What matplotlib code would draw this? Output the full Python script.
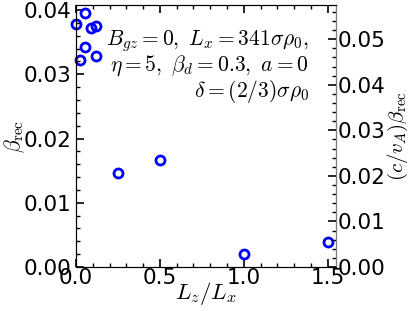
import matplotlib
matplotlib.use("Agg")
import matplotlib.pyplot as plt
from matplotlib.ticker import MultipleLocator

plt.rcParams['mathtext.fontset'] = 'cm'
plt.rcParams['font.family'] = ['DejaVu Sans']

Lz_over_Lx = [0.0, 0.025, 0.055, 0.055, 0.09, 0.12, 0.12, 0.25, 0.5, 1.0, 1.5]
beta_rec = [0.0378, 0.0323, 0.0395, 0.0343, 0.0372, 0.0375, 0.0329, 0.0146, 0.0167, 0.0020, 0.0039]
c_over_vA = 1.41

fig = plt.figure(figsize=(4.15, 3.11), dpi=100)
ax = fig.add_axes([0.183, 0.1415, 0.627, 0.8425])
ax.plot(Lz_over_Lx, beta_rec, 'o', mfc='none', mec='#0000ff', mew=2, ms=6.5, clip_on=False, zorder=5)
ax.set_xlim(0, 1.55)
ax.set_ylim(0, 0.0408)
ax.xaxis.set_major_locator(MultipleLocator(0.5))
ax.xaxis.set_minor_locator(MultipleLocator(0.1))
ax.yaxis.set_major_locator(MultipleLocator(0.01))
ax.yaxis.set_minor_locator(MultipleLocator(0.002))
ax.tick_params(which='both', direction='in', top=True, right=False, labelsize=15.5)
ax.tick_params(axis='x', pad=1)
ax.tick_params(which='major', length=6, width=1.2)
ax.tick_params(which='minor', length=3, width=1)
ax.set_xlabel(r'$L_z/L_x$', fontsize=16.5, labelpad=-6)
ax.set_ylabel(r'$\beta_{\rm rec}$', fontsize=15.5, labelpad=-3)

ax2 = ax.twinx()
ax2.set_ylim(0, 0.0408 * c_over_vA)
ax2.yaxis.set_major_locator(MultipleLocator(0.01))
ax2.yaxis.set_minor_locator(MultipleLocator(0.002))
ax2.tick_params(which='both', direction='in', labelsize=15.5, pad=1)
ax2.tick_params(which='major', length=6, width=1.2)
ax2.tick_params(which='minor', length=3, width=1)
ax2.spines['right'].set_color('#808080')
ax2.set_ylabel(r'$(c/v_A)\beta_{\rm rec}$', fontsize=15, labelpad=0)

ax.text(0.895, 0.765,
        '$B_{gz}=0,\\ L_x=341\\sigma\\rho_0,$\n$\\eta=5,\\ \\beta_d=0.3,\\ a=0$\n$\\delta=(2/3)\\sigma\\rho_0$',
        transform=ax.transAxes, ha='right', va='center', fontsize=15.5, multialignment='right', linespacing=1.0)

fig.savefig('out.png', dpi=100)
